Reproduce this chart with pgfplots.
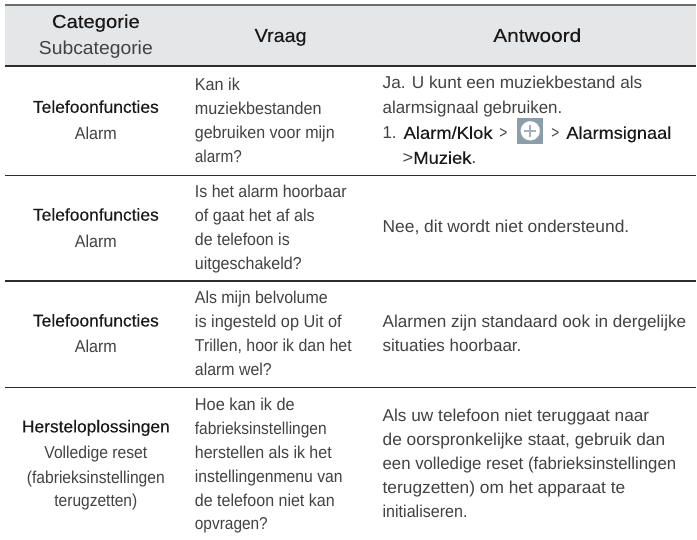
\documentclass[border=0pt]{standalone}
\usepackage{pgfplots}
\pgfplotsset{compat=1.18}
\usepackage{fontspec}
\setmainfont{Liberation Sans}
\newfontfamily\med[FakeBold=0.2]{Liberation Sans}
\definecolor{band}{RGB}{229,230,232}
\definecolor{rul}{RGB}{45,45,45}
\definecolor{tx}{RGB}{66,66,66}
\definecolor{dk}{RGB}{25,25,25}
\definecolor{icon}{RGB}{140,158,170}
\newcommand{\fs}{\fontsize{17.2}{17.2}\selectfont}
\newcommand{\hs}{\fontsize{18.8}{18.8}\selectfont}
\newcommand{\M}[1]{{\med\color{dk}#1}}
\newcommand{\TL}[4]{\node[anchor=base west,inner sep=0pt,text=tx] at (axis cs:#1,#2) {\fs\resizebox{#3pt}{\height}{#4}};}
\newcommand{\TC}[4]{\node[anchor=base,inner sep=0pt,text=tx] at (axis cs:#1,#2) {\fs\resizebox{#3pt}{\height}{#4}};}
\newcommand{\HC}[4]{\node[anchor=base,inner sep=0pt,text=tx] at (axis cs:#1,#2) {\hs\resizebox{#3pt}{\height}{#4}};}
\begin{document}
\begin{tikzpicture}
\begin{axis}[
  scale only axis, width=697pt, height=540pt,
  xmin=0, xmax=697, ymin=0, ymax=540, y dir=reverse,
  hide axis, clip=false]
\addplot[fill=band, draw=none] coordinates {(5,5) (697,5) (697,66) (5,66)} -- cycle;
\addplot[draw=rul!70!white, line width=1.5pt] coordinates {(5,5) (697,5)};
\addplot[draw=rul, line width=2pt] coordinates {(5,66) (697,66)};
\addplot[draw=rul, line width=1.2pt] coordinates {(5,175.5) (697,175.5)};
\addplot[draw=rul, line width=1.2pt] coordinates {(5,281.5) (697,281.5)};
\addplot[draw=rul, line width=1.2pt] coordinates {(5,388) (697,388)};
\addplot[fill=icon, draw=none] coordinates {(518,118) (544,118) (544,144) (518,144)} -- cycle;
\addplot[draw=none, forget plot] coordinates {(0,0) (697,540)};
\node[circle,fill=white,draw=white!85!gray,minimum size=19pt,inner sep=0pt] at (axis cs:531,131) {};
\draw[icon!80!white,line width=1.6pt] (axis cs:525,131) -- (axis cs:537,131);
\draw[icon!80!white,line width=1.6pt] (axis cs:531,125) -- (axis cs:531,137);
% header
\HC{96}{28}{88}{\M{Categorie}}
\HC{96}{55}{114}{Subcategorie}
\HC{281}{42}{52}{\M{Vraag}}
\HC{538}{42}{88}{\M{Antwoord}}
% col 1
\TC{96}{113}{126}{\M{Telefoonfuncties}}
\TC{96}{140}{42}{Alarm}
\TC{96}{221}{126}{\M{Telefoonfuncties}}
\TC{96}{248}{42}{Alarm}
\TC{96}{327}{126}{\M{Telefoonfuncties}}
\TC{96}{353}{42}{Alarm}
\TC{96}{433}{148}{\M{Hersteloplossingen}}
\TC{96}{459}{103}{Volledige reset}
\TC{96}{484}{138}{(fabrieksinstellingen}
\TC{96}{507}{83}{terugzetten)}
% col 2
\TL{195}{91}{45}{Kan ik}
\TL{195}{115}{127}{muziekbestanden}
\TL{195}{139}{140}{gebruiken voor mijn}
\TL{195}{163}{47}{alarm?}
\TL{195}{198}{152}{Is het alarm hoorbaar}
\TL{195}{222}{120}{of gaat het af als}
\TL{195}{246}{95}{de telefoon is}
\TL{195}{270}{107}{uitgeschakeld?}
\TL{195}{304}{133}{Als mijn belvolume}
\TL{195}{328}{147}{is ingesteld op Uit of}
\TL{195}{352}{157}{Trillen, hoor ik dan het}
\TL{195}{376}{77}{alarm wel?}
\TL{195}{411}{100}{Hoe kan ik de}
\TL{195}{435}{132}{fabrieksinstellingen}
\TL{195}{459}{137}{herstellen als ik het}
\TL{195}{483}{148}{instellingenmenu van}
\TL{195}{507}{140}{de telefoon niet kan}
\TL{195}{530}{73}{opvragen?}
% col 3
\TL{383}{89}{260}{Ja. U kunt een muziekbestand als}
\TL{383}{114}{180}{alarmsignaal gebruiken.}
\TL{383}{139}{14}{1.}
\TL{404}{139}{89}{\M{Alarm/Klok}}
\TL{500}{139}{8}{>}
\TL{552}{139}{8}{>}
\TL{567}{139}{105}{\M{Alarmsignaal}}
\TL{403}{164}{74}{>\M{Muziek}.}
\TL{383}{233}{247}{Nee, dit wordt niet ondersteund.}
\TL{383}{328}{304}{Alarmen zijn standaard ook in dergelijke}
\TL{383}{352}{139}{situaties hoorbaar.}
\TL{383}{422}{267}{Als uw telefoon niet teruggaat naar}
\TL{383}{446}{283}{de oorspronkelijke staat, gebruik dan}
\TL{383}{470}{294}{een volledige reset (fabrieksinstellingen}
\TL{383}{494}{243}{terugzetten) om het apparaat te}
\TL{383}{518}{85}{initialiseren.}
\end{axis}
\end{tikzpicture}
\end{document}
